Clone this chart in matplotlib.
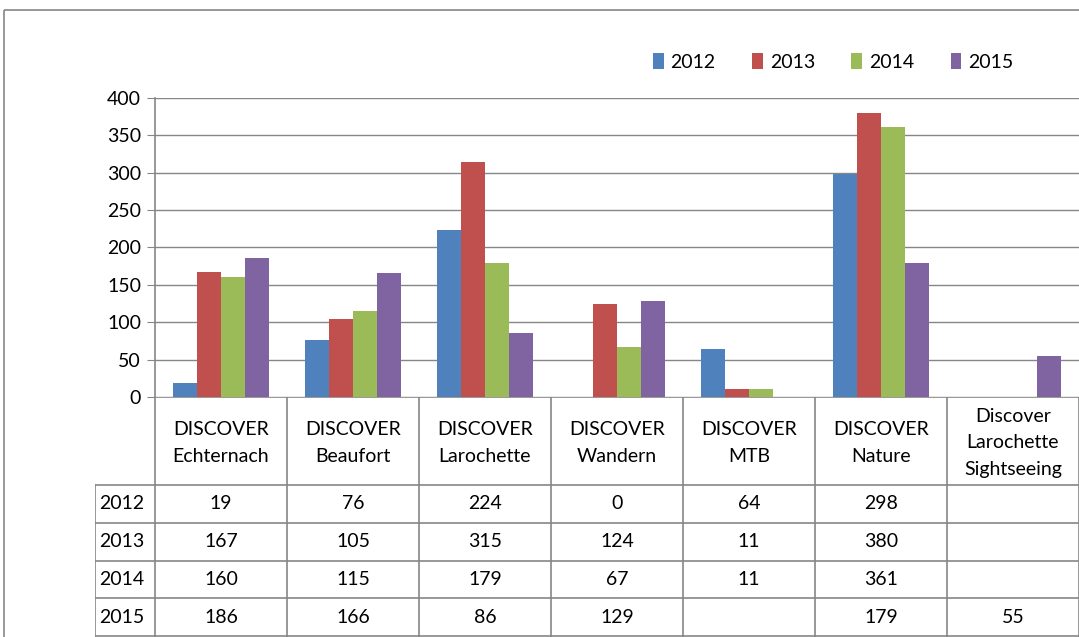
import numpy as np
import matplotlib.pyplot as plt

# data
categories = ["DISCOVER\nEchternach", "DISCOVER\nBeaufort", "DISCOVER\nLarochette",
              "DISCOVER\nWandern", "DISCOVER\nMTB", "DISCOVER\nNature",
              "Discover\nLarochette\nSightseeing"]
years = ["2012", "2013", "2014", "2015"]
v2012 = [19, 76, 224, 0, 64, 298, None]
v2013 = [167, 105, 315, 124, 11, 380, None]
v2014 = [160, 115, 179, 67, 11, 361, None]
v2015 = [186, 166, 86, 129, None, 179, 55]
series = [v2012, v2013, v2014, v2015]
colors = ["#4F81BD", "#C0504D", "#9BBB59", "#8064A2"]
yticks = [0, 50, 100, 150, 200, 250, 300, 350, 400]

plt.rcParams['font.family'] = ['Lato', 'DejaVu Sans']
FS = 14
W, H = 1079, 637
fig = plt.figure(figsize=(W / 100, H / 100), dpi=100)
grey = "#868686"

# outer frame
frame = fig.add_axes([0, 0, 1, 1])
frame.set_xlim(0, W)
frame.set_ylim(H, 0)
frame.axis("off")
frame.add_patch(plt.Rectangle((4, 10), W + 20, H + 20, fill=False, ec=grey, lw=1.2))

# bar chart
x0, x1, ytop, ybot = 155, 1079, 98, 397
ax = fig.add_axes([x0 / W, (H - ybot) / H, (x1 - x0) / W, (ybot - ytop) / H])
n = len(categories)
x = np.arange(n) + 0.5
bw = 0.18
for i, (yr, vals, c) in enumerate(zip(years, series, colors)):
    h = [v if v is not None else 0 for v in vals]
    ax.bar(x + (i - 1.5) * bw, h, bw, color=c, label=yr, zorder=3)
ax.set_xlim(0, n)
ax.set_ylim(0, 400)
ax.set_yticks(yticks)
ax.set_xticks([])
ax.yaxis.grid(True, color=grey, lw=1)
ax.set_axisbelow(True)
for s in ["top", "right", "bottom"]:
    ax.spines[s].set_visible(False)
ax.spines["left"].set_color(grey)
ax.spines["left"].set_linewidth(1.2)
ax.tick_params(axis="y", length=6, color=grey, labelsize=FS, pad=4)
ax.patch.set_alpha(0)

ax.legend(loc="center", bbox_to_anchor=(0.734, 1.12), ncol=4, frameon=False,
          fontsize=FS, handlelength=0.55, handleheight=0.85, handletextpad=0.35,
          columnspacing=1.88)

# data table
lab_w = 60 / 132
tab_top, tab_bot = 397, H + 60
tx = fig.add_axes([(x0 - 60) / W, (H - tab_bot) / H, (x1 - x0 + 60) / W, (tab_bot - tab_top) / H])
tx.set_xlim(-lab_w, n)
tx.set_ylim(tab_bot - tab_top, 0)
tx.axis("off")
head_h = 88
row_h = 37.8
rows_y = [head_h + k * row_h for k in range(len(years) + 1)]
# vertical lines
for k in range(n + 1):
    tx.plot([k, k], [0, rows_y[-1] + 20], color=grey, lw=1.2)
tx.plot([-lab_w, -lab_w], [head_h, rows_y[-1] + 20], color=grey, lw=1.2)
# horizontal lines
tx.plot([0, n], [0, 0], color=grey, lw=1.2)
for yy in rows_y:
    tx.plot([-lab_w, n], [yy, yy], color=grey, lw=1.2)
# header labels
for k, cat in enumerate(categories):
    tx.text(k + 0.5, head_h / 2 + 2, cat, ha="center", va="center", fontsize=FS,
            linespacing=1.65)
# rows
for r, (yr, vals) in enumerate(zip(years, series)):
    yc = rows_y[r] + row_h / 2
    tx.text(-lab_w + 0.03, yc, yr, ha="left", va="center", fontsize=FS)
    for k, v in enumerate(vals):
        if v is not None:
            tx.text(k + 0.5, yc, str(v), ha="center", va="center", fontsize=FS)

fig.savefig("out.png", dpi=100)
